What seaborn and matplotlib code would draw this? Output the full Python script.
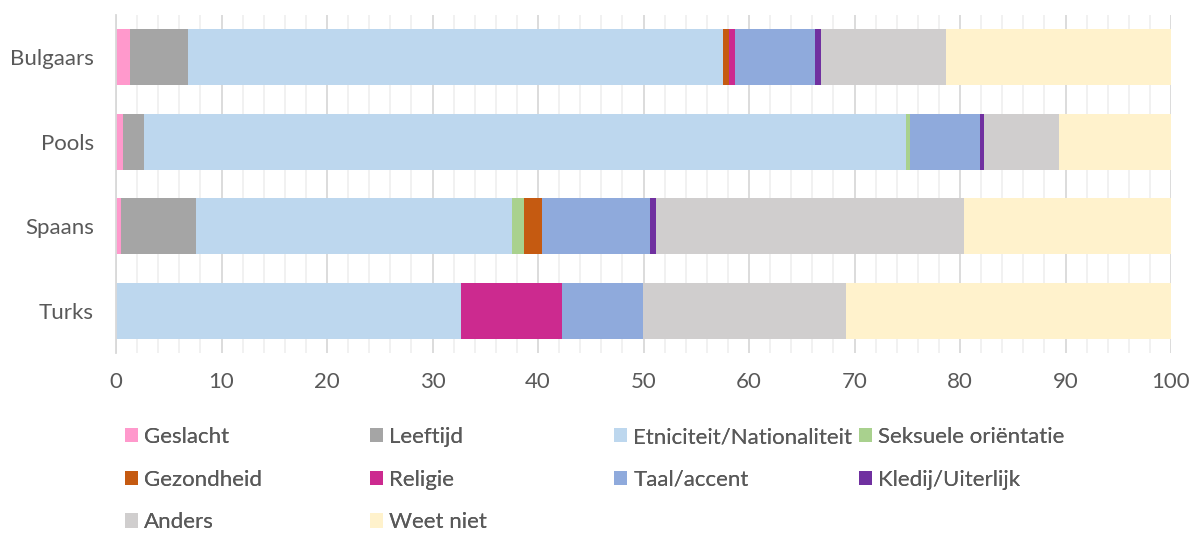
import matplotlib
matplotlib.use("Agg")
import matplotlib.pyplot as plt
from matplotlib.patches import Patch
from matplotlib.ticker import MultipleLocator
import numpy as np
import pandas as pd
import seaborn as sns

groups = ["Bulgaars", "Pools", "Spaans", "Turks"]
categories = ["Geslacht", "Leeftijd", "Etniciteit/Nationaliteit", "Seksuele oriëntatie",
              "Gezondheid", "Religie", "Taal/accent", "Kledij/Uiterlijk", "Anders", "Weet niet"]
colors = ["#FF99CC", "#A5A5A5", "#BDD7EE", "#A9D18E", "#C55A11",
          "#CC2A8F", "#8FAADC", "#7030A0", "#D0CECE", "#FFF2CC"]

geslacht = [1.3, 0.7, 0.5, 0.0]
leeftijd = [5.5, 2.0, 7.1, 0.0]
etniciteit = [50.7, 72.2, 29.9, 32.7]
seksueel = [0.0, 0.4, 1.2, 0.0]
gezondheid = [0.6, 0.0, 1.7, 0.0]
religie = [0.55, 0.0, 0.0, 9.55]
taal = [7.6, 6.6, 10.2, 7.7]
kledij = [0.55, 0.4, 0.55, 0.0]
anders = [11.9, 7.1, 29.25, 19.25]
weet_niet = [21.3, 10.6, 19.6, 30.8]

series = [geslacht, leeftijd, etniciteit, seksueel, gezondheid,
          religie, taal, kledij, anders, weet_niet]

df = pd.DataFrame(np.array(series).T, index=groups, columns=categories)
cum = df.cumsum(axis=1)

sns.set_theme(style="white")
plt.rcParams["font.family"] = ["Lato", "DejaVu Sans"]
txt = "#595959"

fig = plt.figure(figsize=(11.92, 5.35), dpi=100)
ax = fig.add_axes([116 / 1192, 1 - 353 / 535, 1055 / 1192, 338 / 535])

# stacked bars: draw cumulative totals from last to first
for cat, col in reversed(list(zip(categories, colors))):
    sns.barplot(x=cum[cat].values, y=groups, color=col, orient="h",
                width=0.667, ax=ax, saturation=1, linewidth=0)

ax.set_xlim(0, 100)
ax.set_ylim(3.5, -0.5)
ax.xaxis.set_major_locator(MultipleLocator(10))
ax.xaxis.set_minor_locator(MultipleLocator(2))
ax.grid(axis="x", which="major", color="#D9D9D9", linewidth=1.3)
ax.grid(axis="x", which="minor", color="#F0F0F0", linewidth=1.3)
ax.set_axisbelow(True)
for s in ["top", "right", "bottom"]:
    ax.spines[s].set_visible(False)
ax.spines["left"].set_color("#D9D9D9")
ax.spines["left"].set_linewidth(1.3)
ax.tick_params(axis="both", which="both", length=0, labelsize=16, colors=txt)
ax.tick_params(axis="y", pad=16)
ax.tick_params(axis="x", pad=14)
ax.set_xlabel("")
ax.set_ylabel("")

handles = [Patch(facecolor=c, edgecolor="none", label=l) for l, c in zip(categories, colors)]
col_x = [125, 370, 614, 859]
for j in range(4):
    hs = handles[j::4]
    lg = fig.legend(handles=hs, loc="upper left", bbox_to_anchor=(col_x[j] / 1192, 1 - 427 / 535),
                    frameon=False, fontsize=16, handlelength=0.6, handleheight=0.6,
                    handletextpad=0.27, labelspacing=1.02, borderpad=0, borderaxespad=0,
                    labelcolor=txt)
    fig.add_artist(lg)

fig.savefig("out.png", dpi=100)
